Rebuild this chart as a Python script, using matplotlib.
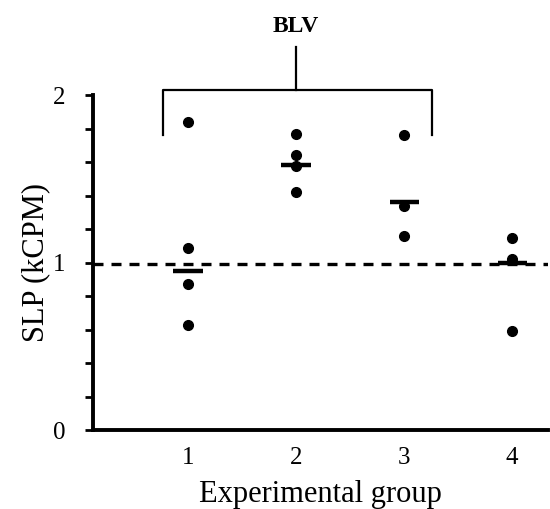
import numpy as np
import matplotlib.pyplot as plt

plt.rcParams['font.family'] = ['Liberation Serif', 'DejaVu Serif']

# data
groups = [1, 2, 3, 4]
slp_g1 = [1.84, 1.09, 0.87, 0.63]
slp_g2 = [1.77, 1.64, 1.575, 1.42]
slp_g3 = [1.76, 1.34, 1.16]
slp_g4 = [1.15, 1.02, 0.59]
centre = [0.95, 1.585, 1.36, 1.0]
ref_level = 0.99

# bracket over groups 1-3
br_left, br_right, br_mid = 0.77, 3.26, 2.0
br_low, br_top, br_stem = 1.76, 2.03, 2.29
br_text = 'BLV'

fig = plt.figure(figsize=(5.5, 5.09), dpi=100)
ax = fig.add_axes([0.169, 0.155, 0.827, 0.658])

for g, vals in zip(groups, [slp_g1, slp_g2, slp_g3, slp_g4]):
    ax.plot([g] * len(vals), vals, 'o', color='black', markersize=7, zorder=3)

for g, c in zip(groups, centre):
    ax.plot([g - 0.135, g + 0.135], [c, c], color='black', lw=3.2,
            solid_capstyle='butt', zorder=4)

ax.axhline(ref_level, color='black', lw=2.4, dashes=(3.0, 2.4), zorder=2)

# bracket
ax.plot([br_left, br_left, br_right, br_right],
        [br_low, br_top, br_top, br_low], color='black', lw=1.6, clip_on=False)
ax.plot([br_mid, br_mid], [br_top, br_stem], color='black', lw=1.6, clip_on=False)
ax.text(br_mid, 2.41, br_text, ha='center', va='center', fontsize=17,
        fontweight='bold')

ax.set_xlim(0.12, 4.33)
ax.set_ylim(0, 2)
ax.set_xticks(groups)
ax.set_xticklabels([str(g) for g in groups])
ax.set_yticks([0, 1, 2])
ax.set_yticks(np.arange(0.2, 2.0, 0.2), minor=True)

ax.spines['top'].set_visible(False)
ax.spines['right'].set_visible(False)
ax.spines['left'].set_linewidth(2.8)
ax.spines['bottom'].set_linewidth(2.8)
ax.tick_params(axis='y', which='both', direction='out', length=6, width=2,
               labelsize=18, pad=14)
ax.tick_params(axis='x', length=0, labelsize=18, pad=12)

ax.set_xlabel('Experimental group', fontsize=22, labelpad=8)
ax.set_ylabel('SLP (kCPM)', fontsize=22, labelpad=2)

fig.savefig('out.png', dpi=100)
